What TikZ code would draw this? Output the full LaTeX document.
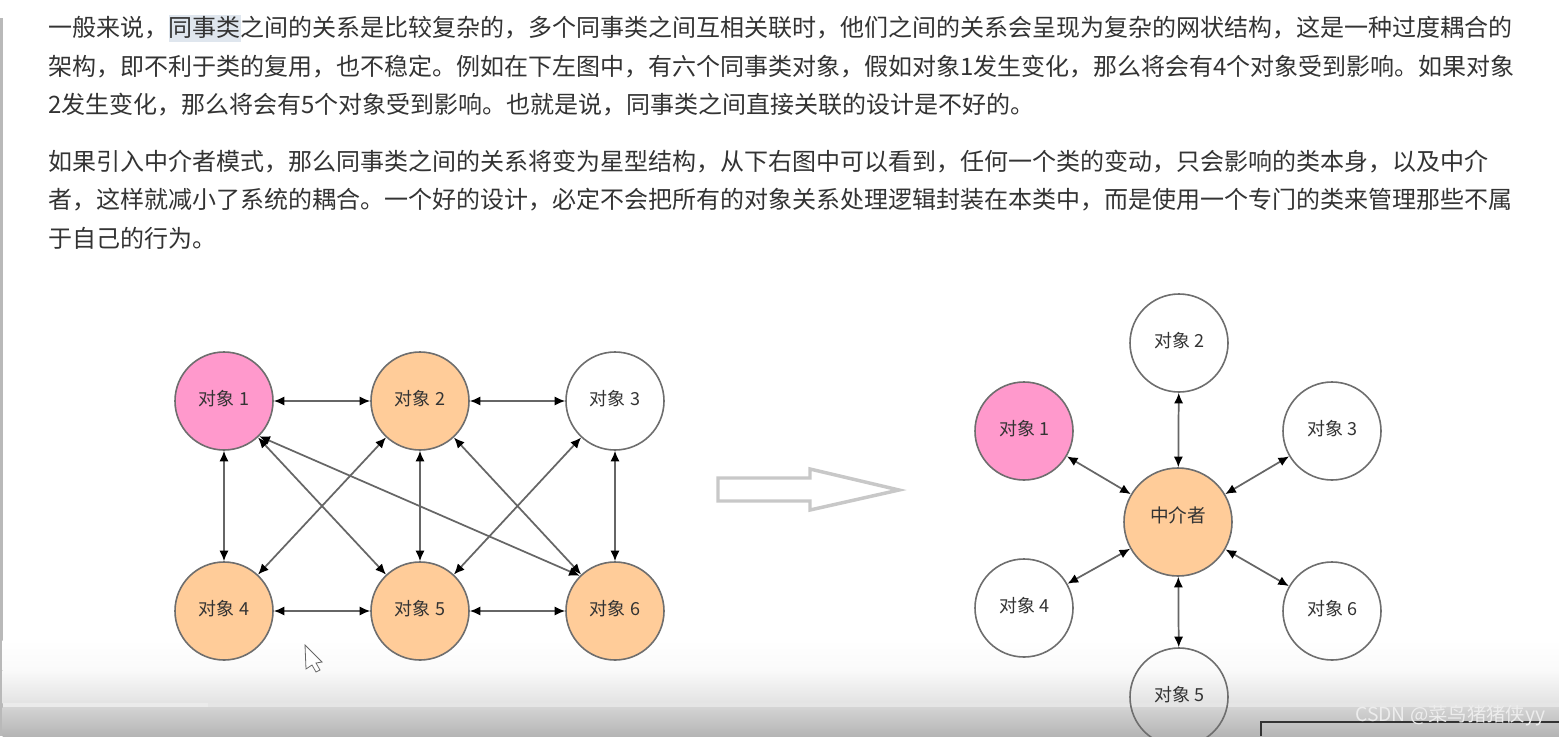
\documentclass[tikz,border=0pt]{standalone}
\usepackage{fontspec}
\setmainfont{Noto Sans CJK SC}
\usetikzlibrary{arrows.meta}
\definecolor{pinkfill}{HTML}{FF99CC}
\definecolor{orangefill}{HTML}{FFCC99}
\definecolor{ringgray}{HTML}{6E6E6E}
\definecolor{linegray}{HTML}{666666}
\definecolor{textgray}{HTML}{333333}
\definecolor{markblue}{HTML}{DFE6EE}
\definecolor{bigarrowgray}{HTML}{C8C8C8}
\tikzset{
	obj/.style={circle,draw=ringgray,line width=1.2pt,minimum size=73.5pt,inner sep=0pt,text=textgray,text height=10pt,text depth=3.5pt,font=\fontsize{13.5pt}{15pt}\selectfont},
	midobj/.style={obj,minimum size=81pt,text height=6pt,text depth=6pt,font=\fontsize{14pt}{16pt}\selectfont},
	para/.style={anchor=west,inner sep=0pt,text=textgray,font=\fontsize{18pt}{22pt}\selectfont},
	link/.style={{Latex[length=8pt,width=7pt,color=black]}-{Latex[length=8pt,width=7pt,color=black]},draw=linegray,line width=1.3pt},
}
\begin{document}
\begin{tikzpicture}[x=0.75pt,y=-0.75pt]
	\useasboundingbox (0,0) rectangle (1559,736);
	% page
	\fill[white] (0,0) rectangle (1559,736);
	\fill[gray!55] (0,18) rectangle (2.5,736);
	\shade[top color=white,bottom color=white!98!black] (2.5,640) rectangle (1559,670);
	\shade[top color=white!98!black,bottom color=white!89!black] (2.5,670) rectangle (1559,703);
	\fill[white!92!black] (2.5,703) rectangle (208,707);
	\fill[white!90!black] (208,703) rectangle (1559,707);
	\shade[top color=white!83!black,bottom color=white!71!black] (2.5,707) rectangle (1559,736);
	\fill[markblue] (169,15) rectangle (241,42);
	\draw[line width=1.1pt,textgray] (1261,736)--(1261,722)--(1559,722);
	% text
	\draw (48,28) node[para] (line1) {一般来说，同事类之间的关系是比较复杂的，多个同事类之间互相关联时，他们之间的关系会呈现为复杂的网状结构，这是一种过度耦合的};
	\draw (48,67) node[para] (line2) {架构，即不利于类的复用，也不稳定。例如在下左图中，有六个同事类对象，假如对象1发生变化，那么将会有4个对象受到影响。如果对象};
	\draw (48,105) node[para] (line3) {2发生变化，那么将会有5个对象受到影响。也就是说，同事类之间直接关联的设计是不好的。};
	\draw (48,162) node[para] (line4) {如果引入中介者模式，那么同事类之间的关系将变为星型结构，从下右图中可以看到，任何一个类的变动，只会影响的类本身，以及中介};
	\draw (48,200) node[para] (line5) {者，这样就减小了系统的耦合。一个好的设计，必定不会把所有的对象关系处理逻辑封装在本类中，而是使用一个专门的类来管理那些不属};
	\draw (48,238) node[para] (line6) {于自己的行为。};
	% left
	\draw (224,401) node[obj,fill=pinkfill] (a1) {对象 1};
	\draw (420,401) node[obj,fill=orangefill] (a2) {对象 2};
	\draw (615,401) node[obj] (a3) {对象 3};
	\draw (224,611) node[obj,fill=orangefill] (a4) {对象 4};
	\draw (420,611) node[obj,fill=orangefill] (a5) {对象 5};
	\draw (615,611) node[obj,fill=orangefill] (a6) {对象 6};
	\draw[link] (a1)--(a2);
	\draw[link] (a2)--(a3);
	\draw[link] (a4)--(a5);
	\draw[link] (a5)--(a6);
	\draw[link] (a1)--(a4);
	\draw[link] (a2)--(a5);
	\draw[link] (a3)--(a6);
	\draw[link] (a1)--(a5);
	\draw[link] (a2)--(a4);
	\draw[link] (a2)--(a6);
	\draw[link] (a3)--(a5);
	\draw[link] (a1.south east)--(a6.north west);
	% big arrow
	\draw[line width=2.6pt,bigarrowgray] (718,478)--(810,478)--(810,469)--(899,490)--(810,510)--(810,501)--(718,501)--cycle;
	% right
	\draw (1178,522) node[midobj,fill=orangefill] (m) {中介者};
	\draw (1024,431) node[obj,fill=pinkfill] (b1) {对象 1};
	\draw (1179,343) node[obj] (b2) {对象 2};
	\draw (1332,431) node[obj] (b3) {对象 3};
	\draw (1024,608) node[obj] (b4) {对象 4};
	\draw (1179,697) node[obj] (b5) {对象 5};
	\draw (1332,611) node[obj] (b6) {对象 6};
	\draw[link] (b1)--(m);
	\draw[link] (b2)--(m);
	\draw[link] (b3)--(m);
	\draw[link] (b4)--(m);
	\draw[link] (b5)--(m);
	\draw[link] (b6)--(m);
	% cursor
	\draw[linegray,fill=white,line width=0.6pt] (305,645)--(322,662)--(316,663)--(320,670)--(316,672)--(312,665)--(306,669)--cycle;
	% watermark
	\draw (1355,716) node[anchor=west,inner sep=0pt,text=white!93!black,font=\fontsize{14.5pt}{16pt}\selectfont] (mark) {CSDN @菜鸟猪猪侠yy};
\end{tikzpicture}
\end{document}
